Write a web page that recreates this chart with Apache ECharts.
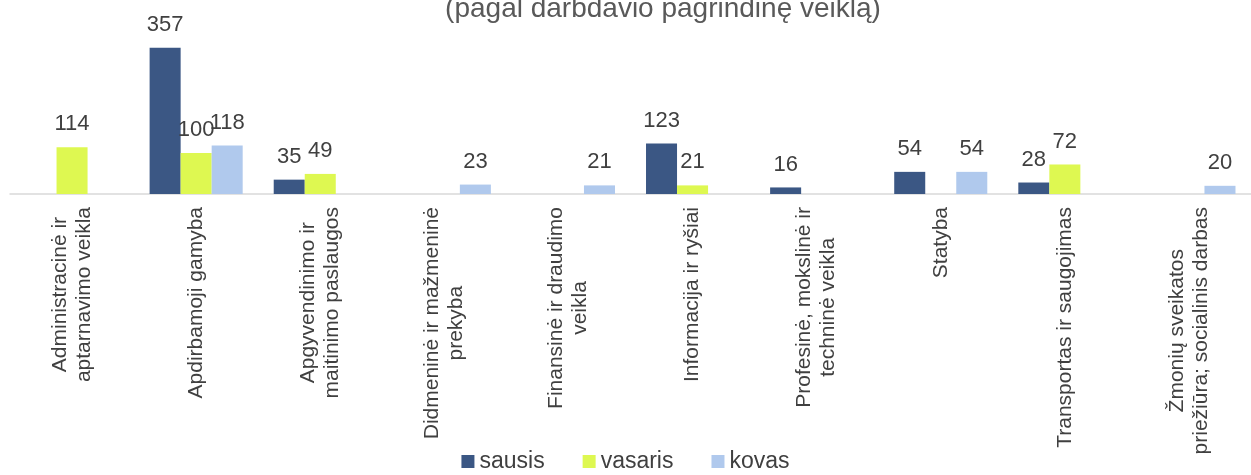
<!DOCTYPE html>
<html>
<head>
<meta charset="utf-8">
<script src="https://cdn.jsdelivr.net/npm/echarts@6/dist/echarts.min.js"></script>
<style>
  html, body { margin: 0; padding: 0; background: #fff; }
  #chart { width: 1251px; height: 475px; }
</style>
</head>
<body>
<div id="chart"></div>
<script>
// kategorijos (veiklos sritys)
var categories = [
  "Administracinė ir\naptarnavimo veikla",
  "Apdirbamoji gamyba",
  "Apgyvendinimo ir\nmaitinimo paslaugos",
  "Didmeninė ir mažmeninė\nprekyba",
  "Finansinė ir draudimo\nveikla",
  "Informacija ir ryšiai",
  "Profesinė, mokslinė ir\ntechninė veikla",
  "Statyba",
  "Transportas ir saugojimas",
  "Žmonių sveikatos\npriežiūra; socialinis darbas"
];
var sausis = [null, 357, 35, null, null, 123, 16, 54, 28, null];
var vasaris = [114, 100, 49, null, null, 21, null, null, 72, null];
var kovas = [null, 118, null, 23, 21, null, null, 54, null, 20];

var seriesNames = ["sausis", "vasaris", "kovas"];
var colors = ["#3B5784", "#DEF851", "#B0C9ED"];

var mycharts = echarts.init(document.getElementById("chart"));

function makeSeries(name, data, color) {
  return {
    name: name,
    type: "bar",
    data: data,
    barGap: "0%",
    barCategoryGap: "25%",
    itemStyle: { color: color },
    label: {
      show: true,
      position: "top",
      distance: 12,
      color: "#404040",
      fontSize: 22,
      fontFamily: "Liberation Sans, Arial, sans-serif"
    },
    animation: false
  };
}

mycharts.setOption({
  title: {
    text: "(pagal darbdavio pagrindinę veiklą)",
    left: 658,
    top: -10,
    textAlign: "center",
    textStyle: {
      fontSize: 28,
      fontWeight: "normal",
      color: "#595959",
      fontFamily: "Liberation Sans, Arial, sans-serif"
    }
  },
  legend: {
    data: seriesNames,
    left: "center",
    top: 445,
    itemWidth: 13,
    itemHeight: 13,
    itemGap: 38,
    icon: "rect",
    textStyle: {
      fontSize: 23,
      color: "#404040",
      fontFamily: "Liberation Sans, Arial, sans-serif"
    }
  },
  grid: {
    left: 10,
    top: 30,
    width: 1252,
    height: 164,
    containLabel: false
  },
  xAxis: {
    type: "category",
    data: categories,
    axisLine: { lineStyle: { color: "#D9D9D9", width: 1.5 } },
    axisTick: { show: false },
    axisLabel: {
      interval: 0,
      rotate: 90,
      margin: 13,
      color: "#404040",
      fontSize: 21,
      lineHeight: 24,
      fontFamily: "Liberation Sans, Arial, sans-serif",
      formatter: function (value) {
        return value.split("\n").map(function (s) { return "{c|" + s + "}"; }).join("\n");
      },
      rich: {
        c: {
          align: "center",
          fontSize: 21,
          lineHeight: 24,
          color: "#404040",
          fontFamily: "Liberation Sans, Arial, sans-serif"
        }
      }
    }
  },
  yAxis: {
    type: "value",
    min: 0,
    max: 400,
    show: false,
    splitLine: { show: false }
  },
  series: [
    makeSeries(seriesNames[0], sausis, colors[0]),
    makeSeries(seriesNames[1], vasaris, colors[1]),
    makeSeries(seriesNames[2], kovas, colors[2])
  ]
});
</script>
</body>
</html>
